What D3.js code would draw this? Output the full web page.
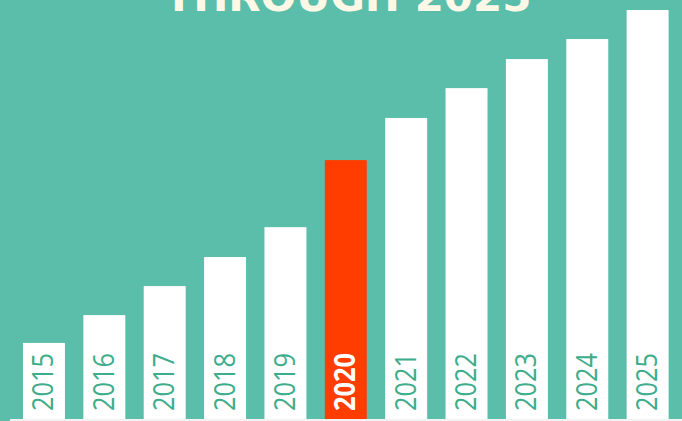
<!DOCTYPE html>
<html>
<head>
<meta charset="utf-8">
<script src="https://cdn.jsdelivr.net/npm/d3@7"></script>
<style>
  html, body { margin: 0; padding: 0; background: #5BBEAB; overflow: hidden; }
  svg { display: block; }
</style>
</head>
<body>
<svg id="chart" width="682" height="421"></svg>
<script>
const years = ["2015","2016","2017","2018","2019","2020","2021","2022","2023","2024","2025"];
const values = [18.6, 25.4, 32.5, 39.6, 46.9, 63.3, 73.6, 80.9, 88.0, 92.9, 100];
const highlightYear = "2020";
const titleText = "THROUGH 2025";

const W = 682, H = 421;
const svg = d3.select("#chart");

svg.append("rect").attr("width", W).attr("height", H).attr("fill", "#5BBEAB");

const x = d3.scaleBand().domain(years).range([23, 668.6]).paddingInner(0.305).paddingOuter(0);
const y = d3.scaleLinear().domain([0, 100]).range([419, 10]);

// title (cut off at top, as in the reference)
svg.append("text")
  .attr("x", 348).attr("y", 11)
  .attr("text-anchor", "middle")
  .attr("font-family", "'DejaVu Sans', sans-serif")
  .attr("font-weight", "bold")
  .attr("font-size", 40)
  .attr("fill", "#FFF8E7")
  .attr("textLength", 367)
  .attr("lengthAdjust", "spacingAndGlyphs")
  .text(titleText);

// bars
svg.selectAll("rect.bar").data(years).join("rect")
  .attr("class", "bar")
  .attr("x", d => x(d))
  .attr("width", x.bandwidth())
  .attr("y", (d, i) => y(values[i]))
  .attr("height", (d, i) => y(0) - y(values[i]))
  .attr("fill", d => d === highlightYear ? "#FF3D00" : "#FFFFFF");

// baseline
svg.append("rect").attr("x", 10).attr("y", 419).attr("width", W - 10).attr("height", 2).attr("fill", "#F2F2F2");

// labels
svg.selectAll("text.lbl").data(years).join("text")
  .attr("class", "lbl")
  .attr("transform", d => `translate(${x(d) + x.bandwidth() / 2 + 9.5},411) rotate(-90)`)
  .attr("font-family", "'Open Sans', sans-serif")
  .attr("font-size", 29)
  .attr("font-weight", d => d === highlightYear ? "bold" : "normal")
  .attr("fill", d => d === highlightYear ? "#FFFFFF" : "#3DAD8B")
  .attr("textLength", 58)
  .attr("lengthAdjust", "spacingAndGlyphs")
  .text(d => d);
</script>
</body>
</html>
